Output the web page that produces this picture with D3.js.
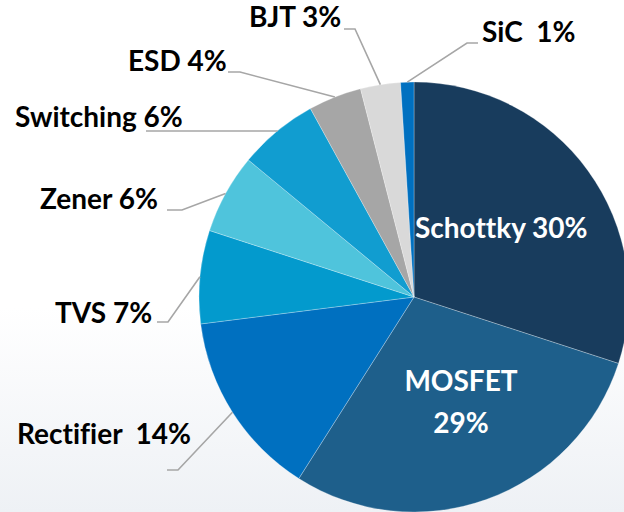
<!DOCTYPE html>
<html>
<head>
<meta charset="utf-8">
<script src="https://cdn.jsdelivr.net/npm/d3@7"></script>
<style>
  html, body { margin: 0; padding: 0; background: #fff; }
  svg text { font-family: Lato, "Open Sans", sans-serif; font-weight: bold; font-variant-ligatures: none; }
</style>
</head>
<body>
<svg id="chart" width="624" height="512"></svg>
<script>
// data
let categories = ["Schottky", "MOSFET", "Rectifier", "TVS", "Zener", "Switching", "ESD", "BJT", "SiC"];
let shares = [30, 29, 14, 7, 6, 6, 4, 3, 1];
let label_texts = ["Schottky 30%", "MOSFET|29%", "Rectifier  14%", "TVS 7%", "Zener 6%", "Switching 6%", "ESD 4%", "BJT 3%", "SiC  1%"];
let slice_colors = ["#183c5d", "#1e5f8b", "#0070c0", "#039acd", "#4fc4dc", "#119dd0", "#a6a6a6", "#d9d9d9", "#0070c0"];

// layout of labels: [x, baseline, anchor], leader elbow [x, y], leader end x (null = no leader)
let label_pos = [[415, 238, "start"], [461, 391, "middle"], [17, 444, "start"], [55, 323, "start"], [40, 209, "start"], [15, 127, "start"], [128, 71, "start"], [249, 27, "start"], [482, 42, "start"]];
let leader_elbow = [null, null, [178, 470], [168, 322], [182, 210], [277, 131], [240, 72], [355, 29], [467, 43]];
let leader_end = [null, null, 167, 157, 167, 146, 228, 344, 478];

let width = 624, height = 512;
let cx = 414, cy = 297, radius = 215;

let svg = d3.select('#chart');

// faint background gradient
let defs = svg.append('defs');
let bg = defs.append('linearGradient').attr('id', 'bg').attr('x1', 0).attr('y1', 0).attr('x2', 0).attr('y2', 1);
bg.append('stop').attr('offset', '0.6').attr('stop-color', '#ffffff');
bg.append('stop').attr('offset', '1').attr('stop-color', '#eef1f5');
svg.append('rect').attr('width', width).attr('height', height).attr('fill', 'url(#bg)');

let data = categories.map((c, i) => ({name: c, value: shares[i], index: i}));

let pie = d3.pie().sort(null).value(d => d.value);
let arcs = pie(data);
let arc = d3.arc().innerRadius(0).outerRadius(radius);

let pie_g = svg.append('g').attr('class', 'pie').attr('transform', 'translate(' + cx + ',' + cy + ')');

pie_g.selectAll('.slice').data(arcs).enter().append('path')
  .attr('class', 'slice')
  .attr('d', arc)
  .attr('fill', d => slice_colors[d.data.index])
  .attr('stroke', 'rgba(255,255,255,0.45)')
  .attr('stroke-width', 0.6);

// leader lines start on the arc at the middle angle
let leaders = svg.append('g').attr('class', 'leaders');
arcs.forEach(d => {
  let i = d.data.index;
  if(leader_elbow[i] == null) return;
  let mid = (d.startAngle + d.endAngle) / 2;
  let sx = cx + radius * Math.sin(mid);
  let sy = cy - radius * Math.cos(mid);
  let e = leader_elbow[i];
  leaders.append('polyline')
    .attr('points', [[sx, sy], e, [leader_end[i], e[1]]].map(p => p.join(',')).join(' '))
    .attr('fill', 'none')
    .attr('stroke', '#a6a6a6')
    .attr('stroke-width', 1.6);
});

// labels
let labels = svg.append('g').attr('class', 'labels');
arcs.forEach(d => {
  let i = d.data.index;
  let p = label_pos[i];
  let inside = i < 2;
  let lines = label_texts[i].split('|');
  let t = labels.append('text')
    .attr('x', p[0]).attr('y', p[1])
    .attr('text-anchor', p[2])
    .attr('fill', inside ? '#ffffff' : '#000000')
    .style('font-size', '28px')
    .style('white-space', 'pre');
  lines.forEach((l, k) => {
    t.append('tspan').attr('x', p[0]).attr('dy', k == 0 ? 0 : 42).text(l);
  });
});
</script>
</body>
</html>
